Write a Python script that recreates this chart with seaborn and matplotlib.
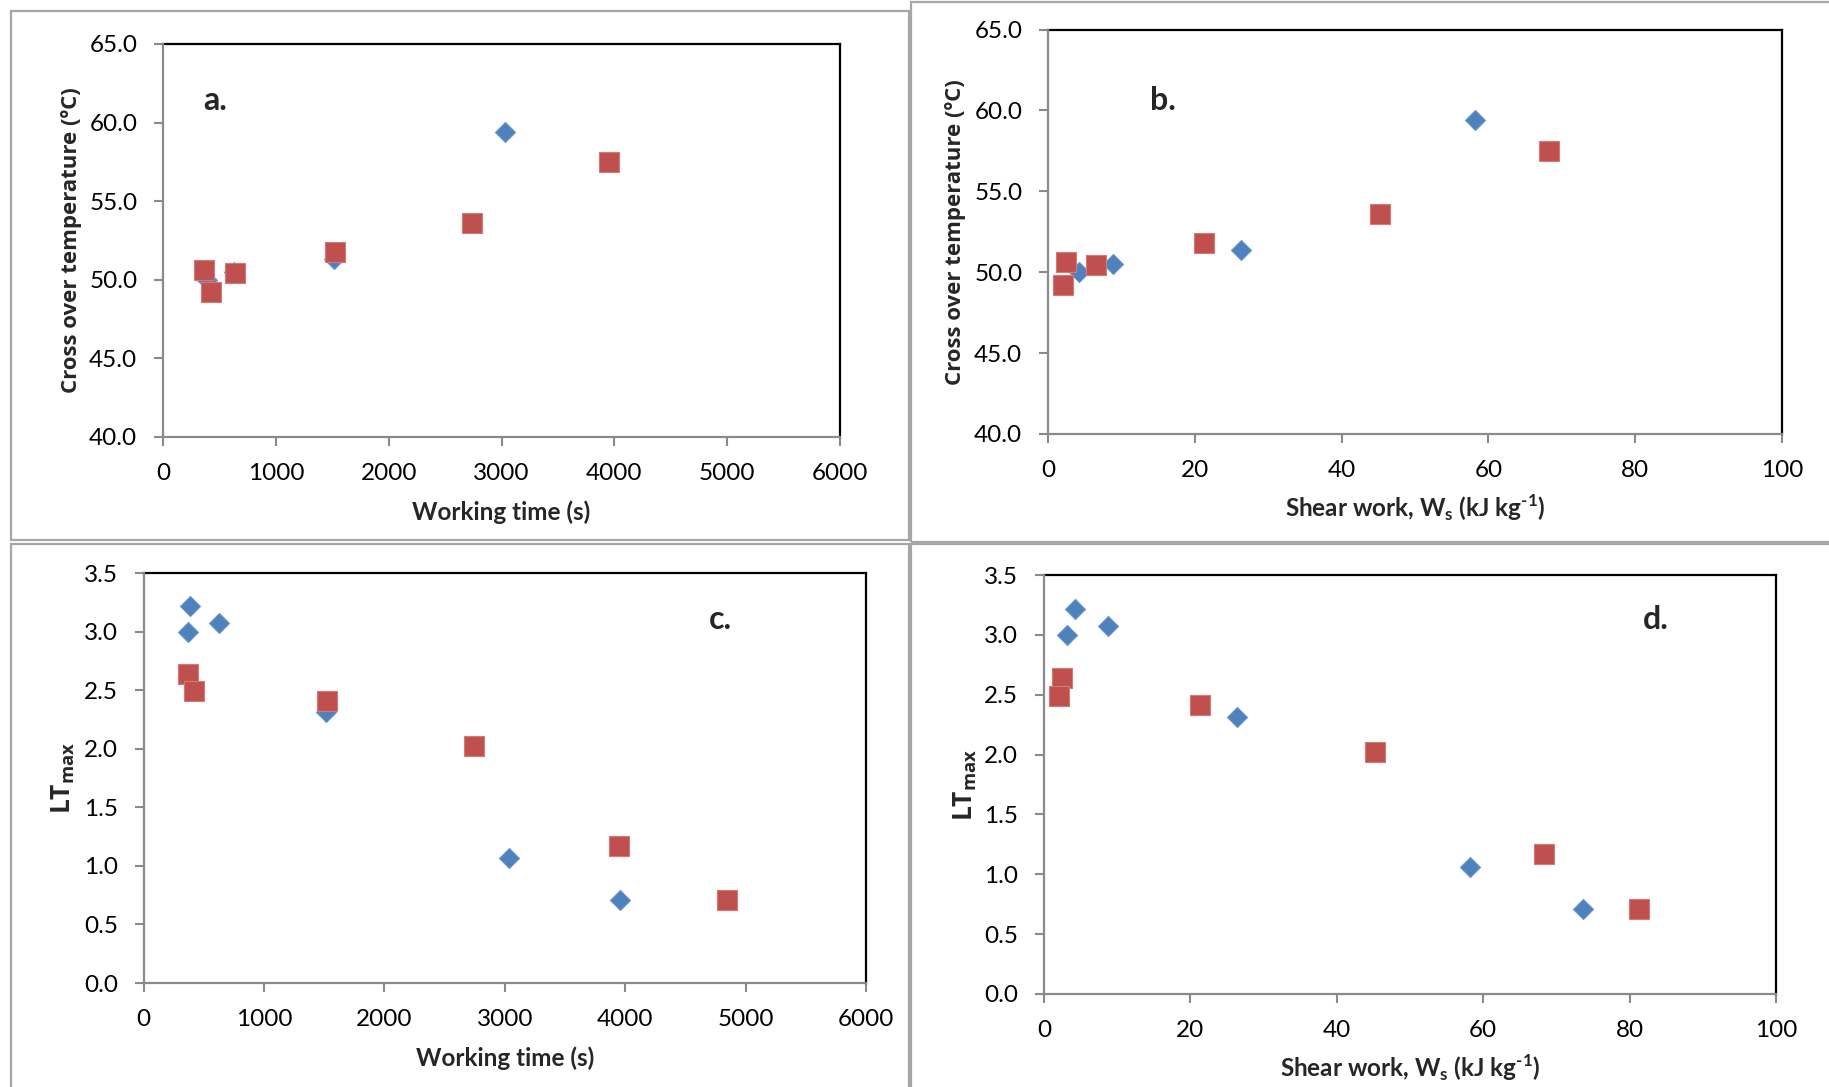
import numpy as np
import pandas as pd
import matplotlib
matplotlib.use("Agg")
import matplotlib.pyplot as plt
import seaborn as sns
from matplotlib.patches import Rectangle
from matplotlib.ticker import FormatStrFormatter

sns.set_style("white")
plt.rcParams["font.family"] = ["Lato", "DejaVu Sans"]
plt.rcParams["mathtext.fontset"] = "custom"
plt.rcParams["mathtext.rm"] = "Lato:bold"
plt.rcParams["mathtext.bf"] = "Lato:bold"
plt.rcParams["mathtext.sf"] = "Open Sans:bold"

# Series 1 (blue diamonds): one value per sample, NaN where not measured
s1_time = [368, 388, 630, 1512, 3034, 3955]
s1_work = [3.1, 4.2, 8.8, 26.3, 58.2, 73.7]
s1_temp = [np.nan, 50.0, 50.5, 51.35, 59.4, np.nan]
s1_lt = [3.00, 3.22, 3.07, 2.31, 1.065, 0.71]

# Series 2 (red squares)
s2_time = [367, 423, 635, 1523, 2742, 3950, 4847]
s2_work = [2.5, 2.1, 6.55, 21.3, 45.2, 68.3, 81.3]
s2_temp = [50.6, 49.2, 50.45, 51.8, 53.6, 57.5, np.nan]
s2_lt = [2.64, 2.49, np.nan, 2.41, 2.02, 1.17, 0.71]

df = pd.concat([
    pd.DataFrame({"series": "s1", "time": s1_time, "work": s1_work,
                  "temp": s1_temp, "lt": s1_lt}),
    pd.DataFrame({"series": "s2", "time": s2_time, "work": s2_work,
                  "temp": s2_temp, "lt": s2_lt}),
], ignore_index=True)

W, H = 1829, 1087
fig = plt.figure(figsize=(W / 100, H / 100), dpi=100)
fig.patch.set_facecolor("white")


def px_axes(left, top, right, bottom):
    return fig.add_axes([left / W, 1 - bottom / H, (right - left) / W, (bottom - top) / H])


# chart frames
for x0, y0, x1, y1 in [(10.5, 10.5, 909, 540), (911, 2, 1840, 542),
                       (10.5, 544, 909, 1100), (911, 544, 1840, 1100)]:
    fig.add_artist(Rectangle((x0 / W, 1 - y1 / H), (x1 - x0) / W, (y1 - y0) / H,
                             transform=fig.transFigure, fill=False,
                             edgecolor="#a6a6a6", linewidth=1.6))

STYLES = {
    "s1": dict(marker="D", s=105, color="#4F81BD", edgecolor="#6c97cc"),
    "s2": dict(marker="s", s=205, color="#C0504D", edgecolor="#d27a77"),
}

TIME_LABEL = "Working time (s)"
WORK_LABEL = r"Shear work, W$_{\mathrm{s}}$ (kJ kg$^{\text{-1}}$)"
TEMP_LABEL = "Cross over temperature (ºC)"
LT_LABEL = r"$\mathsf{LT}_{\mathsf{max}}$"

panels = [
    # (box px, xcol, ycol, xlim, xticks, ylim, yticks, xlabel, ylabel, letter, letter pos, ylabel x)
    ((163, 44, 840, 437), "time", "temp", (0, 6000), np.arange(0, 6001, 1000),
     (40, 65), np.arange(40, 65.1, 5), TIME_LABEL, TEMP_LABEL, "a.", (0.059, 0.832), -0.120),
    ((1048, 29.5, 1782, 434), "work", "temp", (0, 100), np.arange(0, 101, 20),
     (40, 65), np.arange(40, 65.1, 5), WORK_LABEL, TEMP_LABEL, "b.", (0.139, 0.802), -0.112),
    ((143.5, 573, 866, 983), "time", "lt", (0, 6000), np.arange(0, 6001, 1000),
     (0, 3.5), np.arange(0, 3.51, 0.5), TIME_LABEL, LT_LABEL, "c.", (0.783, 0.863), -0.092),
    ((1044, 575, 1776, 994), "work", "lt", (0, 100), np.arange(0, 101, 20),
     (0, 3.5), np.arange(0, 3.51, 0.5), WORK_LABEL, LT_LABEL, "d.", (0.818, 0.871), -0.089),
]

for (box, xcol, ycol, xlim, xticks, ylim, yticks, xlabel, ylabel,
     letter, lpos, ylab_x) in panels:
    ax = px_axes(*box)
    h_px = box[3] - box[1]
    for name in ["s1", "s2"]:
        sub = df[(df.series == name)].dropna(subset=[xcol, ycol])
        st = STYLES[name]
        sns.scatterplot(data=sub, x=xcol, y=ycol, ax=ax, legend=False,
                        marker=st["marker"], s=st["s"], color=st["color"],
                        edgecolor=st["edgecolor"], linewidth=0.8, zorder=3)
    ax.set_xlim(*xlim)
    ax.set_ylim(*ylim)
    ax.set_xticks(xticks)
    ax.set_yticks(yticks)
    ax.yaxis.set_major_formatter(FormatStrFormatter("%.1f"))
    for side in ("left", "bottom"):
        ax.spines[side].set_color("#8a8a8a")
        ax.spines[side].set_linewidth(1.6)
        ax.spines[side].set_zorder(4)
    for side in ("top", "right"):
        ax.spines[side].set_color("black")
        ax.spines[side].set_linewidth(1.6)
    ax.tick_params(axis="both", direction="out", length=6.5, width=1.5,
                   color="#8a8a8a", pad=12, labelsize=17.5, labelcolor="black",
                   left=True, bottom=True)
    ax.set_xlabel(xlabel, fontsize=17.5, fontweight="bold")
    ax.xaxis.label.set_va("baseline")
    ax.xaxis.set_label_coords(0.5, -83 / h_px)
    lab_size = 19 if ylabel == LT_LABEL else 16
    ax.set_ylabel(ylabel, fontsize=lab_size, fontweight="bold",
                  family=["Open Sans", "DejaVu Sans"])
    ax.yaxis.set_label_coords(ylab_x, 0.5)
    ax.text(lpos[0], lpos[1], letter, transform=ax.transAxes, fontsize=23,
            fontweight="bold", ha="left", va="baseline")

fig.savefig("out.png", dpi=100, facecolor="white")
